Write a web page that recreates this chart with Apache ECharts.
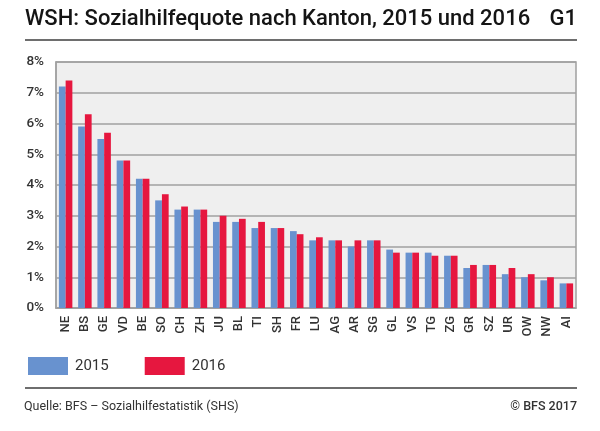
<!DOCTYPE html>
<html>
<head>
<meta charset="utf-8">
<script src="https://cdn.jsdelivr.net/npm/echarts@6/dist/echarts.min.js"></script>
<style>html,body{margin:0;padding:0;background:#fff;}#c{width:600px;height:431px;}</style>
</head>
<body>
<div id="c"></div>
<script>
var categories = ['NE','BS','GE','VD','BE','SO','CH','ZH','JU','BL','TI','SH','FR','LU','AG','AR','SG','GL','VS','TG','ZG','GR','SZ','UR','OW','NW','AI'];
var values2015 = [7.2,5.9,5.5,4.8,4.2,3.5,3.2,3.2,2.8,2.8,2.6,2.6,2.5,2.2,2.2,2.0,2.2,1.9,1.8,1.8,1.7,1.3,1.4,1.1,1.0,0.9,0.8];
var values2016 = [7.4,6.3,5.7,4.8,4.2,3.7,3.3,3.2,3.0,2.9,2.8,2.6,2.4,2.3,2.2,2.2,2.2,1.8,1.8,1.7,1.7,1.4,1.4,1.3,1.1,1.0,0.8];
var yTicks = [0,1,2,3,4,5,6,7,8];

var chart = echarts.init(document.getElementById('c'), null, {renderer:'canvas'});
var font = 'Roboto, "Noto Sans", sans-serif';
chart.setOption({
  animation:false,
  backgroundColor:'#fff',
  textStyle:{fontFamily:font},
  graphic:[
    {type:'text', left:25, top:8, style:{text:'WSH: Sozialhilfequote nach Kanton, 2015 und 2016', font:'500 22px '+font, fill:'#141414'}},
    {type:'text', right:23, top:8, style:{text:'G1', font:'500 22px '+font, fill:'#141414'}},
    {type:'rect', shape:{x:25, y:39, width:552, height:2}, style:{fill:'#6e6e6e'}},
    {type:'rect', shape:{x:25, y:387, width:552, height:2}, style:{fill:'#6e6e6e'}},
    {type:'text', left:24, top:400, style:{text:'Quelle: BFS – Sozialhilfestatistik (SHS)', font:'12.5px '+font, fill:'#333'}},
    {type:'text', right:23, top:400, style:{text:'© BFS 2017', font:'500 12.5px '+font, fill:'#333'}}
  ],
  legend:{
    left:23, top:352, itemWidth:40, itemHeight:18, itemGap:36,
    icon:'rect',
    textStyle:{fontSize:15, color:'#333', padding:[0,0,0,2]},
    data:['2015','2016']
  },
  grid:{left:56, right:24, top:62, bottom:123, show:true, backgroundColor:'#efefef', borderColor:'#a0a0a0', borderWidth:1.5},
  xAxis:{
    type:'category', data:categories,
    axisLine:{show:true, lineStyle:{color:'#a0a0a0', width:1.5}},
    axisTick:{show:false},
    axisLabel:{interval:0, rotate:90, fontSize:13, fontWeight:500, color:'#333', margin:8}
  },
  yAxis:{
    type:'value', min:0, max:8, interval:1,
    axisLine:{show:true, lineStyle:{color:'#a0a0a0', width:1.5}},
    axisTick:{show:false},
    splitLine:{lineStyle:{color:'#a0a0a0', width:1.5}},
    axisLabel:{formatter:function(v){return yTicks.indexOf(v)>=0 ? v+'%' : '';}, fontSize:13.5, color:'#333', fontWeight:500, margin:12}
  },
  series:[
    {name:'2015', type:'bar', data:values2015, itemStyle:{color:'#6892cf'}, barGap:'0%', barCategoryGap:'30%'},
    {name:'2016', type:'bar', data:values2016, itemStyle:{color:'#e6173f'}, barGap:'0%', barCategoryGap:'30%'}
  ]
});
</script>
</body>
</html>
